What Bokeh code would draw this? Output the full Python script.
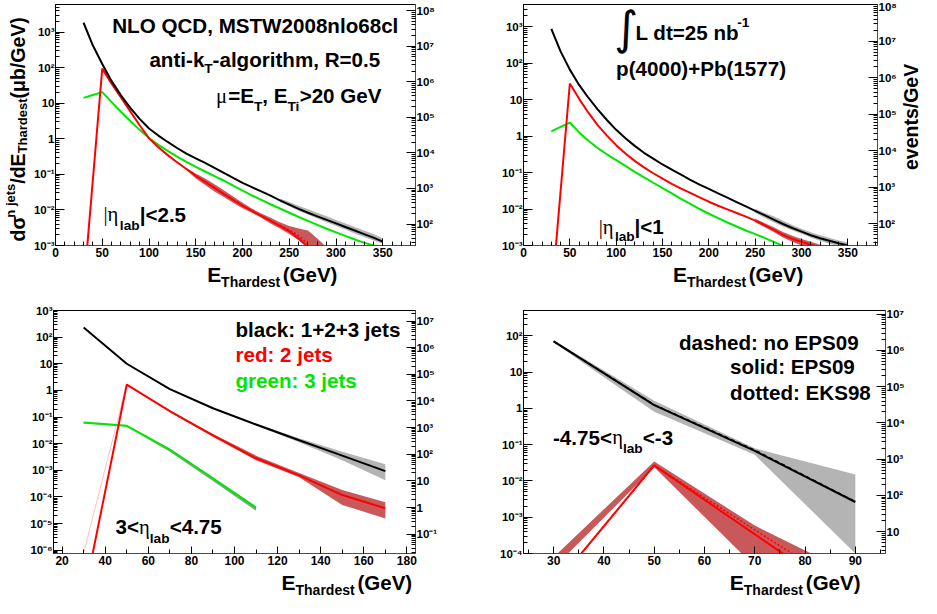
import math
from bokeh.plotting import figure
from bokeh.models import (Range1d, LogAxis, FixedTicker, SingleIntervalTicker,
                          CustomJSTickFormatter, Label, LogScale)
from bokeh.layouts import row, column
from bokeh.embed import file_html
from bokeh.resources import INLINE

LUMI = 25000.0  # 25 nb^-1 in 1/microbarn: events/GeV = LUMI * dsigma/dE

# ---------------- data (log10 of dsigma/dE in microbarn/GeV) ----------------
# Panel A : |eta_lab| < 2.5
A_E = list(range(30, 360, 10))
A_black = [3.26, 2.62, 2.10, 1.62, 1.22, 0.87, 0.56, 0.29, 0.09, -0.09, -0.26, -0.42, -0.55,
           -0.68, -0.82, -0.96, -1.10, -1.24, -1.36, -1.48, -1.60, -1.73, -1.85, -1.97, -2.08,
           -2.18, -2.28, -2.38, -2.48, -2.58, -2.68, -2.78, -2.89]
A_green = [1.15, 1.23, 1.31, 1.03, 0.76, 0.50, 0.25, 0.02, -0.17, -0.34, -0.50, -0.65, -0.79,
           -0.92, -1.05, -1.18, -1.32, -1.46, -1.59, -1.72, -1.84, -1.96, -2.08, -2.20, -2.31,
           -2.42, -2.53, -2.63, -2.73, -2.83, -2.92, -3.00, -3.08]
A_red_E = [30, 50, 60, 70, 80, 90, 100, 110, 120, 130, 140, 150, 160, 170, 180, 190, 200, 210,
           220, 230, 240, 250, 260, 270, 280, 290]
A_red = [-4.25, 1.97, 1.55, 1.16, 0.77, 0.38, 0.01, -0.24, -0.46, -0.66, -0.85, -1.04, -1.21,
         -1.38, -1.55, -1.72, -1.88, -2.03, -2.17, -2.31, -2.45, -2.60, -2.80, -3.05, -3.30, -3.55]
A_red_dot_E = [240, 250, 260, 270, 280]
A_red_dot = [-2.43, -2.56, -2.72, -2.95, -3.20]
A_redband_E = [140, 150, 160, 170, 180, 190, 200, 210, 220, 230, 240, 250, 260, 270, 280, 290]
A_redband_lo = [-0.88, -1.12, -1.30, -1.48, -1.64, -1.80, -1.95, -2.08, -2.22, -2.38, -2.52,
                -2.68, -2.85, -3.05, -3.25, -3.45]
A_redband_hi = [-0.82, -0.98, -1.12, -1.28, -1.45, -1.62, -1.80, -1.96, -2.10, -2.22, -2.35,
                -2.45, -2.52, -2.58, -2.80, -3.05]
A_grayband_E = [240, 250, 260, 270, 280, 290, 300, 310, 320, 330, 340, 350]
A_grayband_lo = [-1.78, -1.90, -2.02, -2.13, -2.24, -2.35, -2.45, -2.55, -2.66, -2.76, -2.86, -2.95]
A_grayband_hi = [-1.68, -1.78, -1.88, -1.98, -2.08, -2.18, -2.28, -2.38, -2.48, -2.58, -2.68, -2.80]

# Panel B : |eta_lab| < 1
B_E = list(range(30, 360, 10))
B_black = [2.94, 2.32, 1.82, 1.40, 1.05, 0.73, 0.44, 0.17, -0.06, -0.27, -0.46, -0.62, -0.78,
           -0.92, -1.06, -1.20, -1.33, -1.45, -1.57, -1.69, -1.81, -1.93, -2.05, -2.17, -2.29,
           -2.41, -2.52, -2.62, -2.72, -2.80, -2.87, -2.94, -3.00]
B_red_E = [30, 50, 60, 70, 80, 90, 100, 110, 120, 130, 140, 150, 160, 170, 180, 190, 200, 210,
           220, 230, 240, 250, 260, 270, 280, 290, 300, 310, 320]
B_red = [-4.48, 1.44, 1.02, 0.64, 0.30, 0.01, -0.25, -0.48, -0.68, -0.86, -1.02, -1.17, -1.31,
         -1.44, -1.56, -1.68, -1.80, -1.91, -2.01, -2.11, -2.21, -2.32, -2.44, -2.57, -2.71,
         -2.82, -2.90, -2.98, -3.06]
B_green_E = list(range(30, 290, 10))
B_green = [0.13, 0.25, 0.37, 0.10, -0.13, -0.33, -0.50, -0.66, -0.82, -0.98, -1.13, -1.28,
           -1.43, -1.57, -1.72, -1.86, -2.00, -2.13, -2.25, -2.37, -2.48, -2.59, -2.69, -2.79,
           -2.90, -3.01]
B_grayband_E = [250, 260, 270, 280, 290, 300, 310, 320, 330, 340, 350]
B_grayband_lo = [-2.10, -2.24, -2.36, -2.48, -2.58, -2.68, -2.78, -2.87, -2.95, -3.02, -3.08]
B_grayband_hi = [-2.00, -2.10, -2.20, -2.32, -2.44, -2.54, -2.64, -2.72, -2.79, -2.86, -2.92]
B_redband_E = [250, 260, 270, 280, 290, 300, 310, 320]
B_redband_lo = [-2.36, -2.49, -2.63, -2.78, -2.90, -3.00, -3.10, -3.20]
B_redband_hi = [-2.27, -2.38, -2.50, -2.63, -2.73, -2.82, -2.90, -2.98]

# Panel C : 3 < eta_lab < 4.75
C_E = [30, 50, 70, 90, 110, 130, 150, 170]
C_black = [2.36, 1.00, 0.05, -0.67, -1.28, -1.87, -2.45, -3.03]
C_red = [-7.80, 0.22, -0.78, -1.69, -2.55, -3.19, -3.93, -4.43]
C_red_faint = [-6.10, 0.22, -0.78, -1.70, -2.55, -3.18, -3.90, -4.40]
C_grayband_lo = [2.34, 0.98, 0.03, -0.70, -1.32, -1.95, -2.62, -3.37]
C_grayband_hi = [2.38, 1.02, 0.07, -0.64, -1.24, -1.80, -2.30, -2.77]
C_redband_E = [70, 90, 110, 130, 150, 170]
C_redband_lo = [-0.82, -1.74, -2.62, -3.26, -4.30, -4.81]
C_redband_hi = [-0.76, -1.64, -2.45, -3.10, -3.74, -4.20]
C_green_E = [30, 50, 70, 90, 110]
C_green = [-1.21, -1.33, -2.22, -3.30, -4.40]
C_greenband_lo = [-1.24, -1.36, -2.30, -3.40, -4.52]
C_greenband_hi = [-1.19, -1.31, -2.20, -3.28, -4.36]

# Panel D : -4.75 < eta_lab < -3
D_E = [30, 50, 70, 90]
D_black = [1.85, 0.09, -1.17, -2.58]
D_black_dash = [1.85, 0.10, -1.15, -2.57]
D_red = [-4.92, -1.57, -3.47, -5.37]
D_red_dot = [-4.92, -1.57, -3.35, -5.10]
D_grayband_lo = [1.82, -0.09, -1.28, -4.00]
D_grayband_hi = [1.88, 0.21, -1.10, -1.82]
D_redband_lo = [-4.40, -1.62, -4.36, -7.00]
D_redband_hi = [-4.10, -1.46, -3.23, -4.60]

# axis ranges (x in GeV, y as log10 limits)
A_XR, A_YR = (0, 385), (-3.0, 3.773)
B_XR, B_YR = (0, 382), (-3.0, 3.605)
C_XR, C_YR = (16, 184), (-6.125, 3.0)
D_XR, D_YR = (24, 96), (-4.0, 2.70)

# ---------------- styling ----------------
FONT = "Liberation Sans"
SERIF = "Liberation Serif"
RED = "#ff0000"
GREEN = "#00e600"
REDBAND = "#c8585a"
GRAYBAND = "#b4b4b4"
GREENBAND = "#7fa37f"
K = 0.98     # text scale
MID = 0.347  # distance (in em) from text-box middle down to the baseline

SUP = {"-": "\u207b", "0": "\u2070", "1": "\u00b9", "2": "\u00b2", "3": "\u00b3", "4": "\u2074",
       "5": "\u2075", "6": "\u2076", "7": "\u2077", "8": "\u2078", "9": "\u2079"}
LOGFMT = CustomJSTickFormatter(args=dict(sup=SUP), code="""
const e = Math.round(Math.log10(tick));
if (e == 0) return "1";
if (e == 1) return "10";
return "10" + String(e).split("").map(c => sup[c]).join("");
""")

# Arial/Liberation Sans Bold advance widths (per 1000 em)
WB = {' ': 278, '(': 333, ')': 333, '+': 584, ',': 278, '-': 333, '.': 278, '/': 278, ':': 333,
      '<': 584, '=': 584, '>': 584, '|': 280, '\u03bc': 600, '\u03b7': 520, '\u03c3': 611}
for c in "0123456789":
    WB[c] = 556
WB.update(dict(zip("ABCDEFGHIJKLMNOPQRSTUVWXYZ",
                   [722, 722, 722, 722, 667, 611, 778, 722, 278, 556, 722, 611, 833, 722, 778, 667,
                    778, 722, 667, 611, 722, 667, 944, 667, 667, 611])))
WB.update(dict(zip("abcdefghijklmnopqrstuvwxyz",
                   [556, 611, 556, 611, 556, 333, 611, 611, 278, 278, 556, 278, 889, 611, 611, 611,
                    611, 389, 556, 333, 611, 556, 778, 556, 556, 500])))


def tw(s, size):
    return sum(WB.get(c, 556) for c in s) * size / 1000.0


def decades(lo, hi):
    return [10.0 ** k for k in range(lo, hi + 1)]


def minors(lo, hi):
    return [m * 10.0 ** k for k in range(lo, hi + 1) for m in range(2, 10)]


def style_axis(ax, line_color="black", size="12px", standoff=2):
    ax.major_label_text_font = FONT
    ax.major_label_text_font_style = "bold"
    ax.major_label_text_font_size = size
    ax.major_label_text_color = "black"
    ax.major_label_standoff = standoff
    ax.major_tick_in = 9
    ax.major_tick_out = 0
    ax.minor_tick_in = 4
    ax.minor_tick_out = 0
    ax.major_tick_line_color = "black"
    ax.minor_tick_line_color = "black"
    ax.axis_line_color = line_color


def make_fig(w, h, lb, rb, tb, bb, xr, ylog, xint, xminor):
    p = figure(width=w, height=h, x_range=Range1d(*xr),
               y_range=Range1d(10 ** ylog[0], 10 ** ylog[1]), y_axis_type="log",
               output_backend="svg", toolbar_location=None, tools="",
               min_border_left=lb, min_border_right=rb, min_border_top=tb, min_border_bottom=bb)
    p.xgrid.visible = False
    p.ygrid.visible = False
    p.outline_line_color = "black"
    p.background_fill_color = "white"
    p.border_fill_color = "white"
    p.extra_y_ranges = {"ev": Range1d(10 ** ylog[0] * LUMI, 10 ** ylog[1] * LUMI)}
    p.extra_y_scales = {"ev": LogScale()}
    lo, hi = math.floor(ylog[0]) - 1, math.ceil(ylog[1]) + 1
    yl = p.yaxis[0]
    yl.ticker = FixedTicker(ticks=decades(lo, hi), minor_ticks=minors(lo, hi))
    yl.formatter = LOGFMT
    style_axis(yl, size="11.5px", standoff=1)
    elo, ehi = lo + 4, hi + 6
    yr = LogAxis(y_range_name="ev",
                 ticker=FixedTicker(ticks=decades(elo, ehi), minor_ticks=minors(elo, ehi)),
                 formatter=LOGFMT)
    style_axis(yr, RED, size="11.5px", standoff=1)
    p.add_layout(yr, "right")
    xa = p.xaxis[0]
    xa.ticker = SingleIntervalTicker(interval=xint, num_minor_ticks=xminor)
    style_axis(xa, RED)
    xa.major_tick_in = 7
    return p


def strip(w, h, lb=0, rb=0, xr=None):
    """blank text strip; its frame is aligned with the panel above (same side borders),
    and its x range is given in picture pixels so texts can be placed directly."""
    xr = xr if xr is not None else (0, w)
    p = figure(width=w, height=h, x_range=Range1d(*xr), y_range=Range1d(0, h),
               x_axis_type=None, y_axis_type=None, output_backend="svg",
               toolbar_location=None, tools="", min_border=0,
               min_border_left=lb, min_border_right=rb)
    p.outline_line_color = None
    p.xgrid.visible = False
    p.ygrid.visible = False
    return p


def lg(v):
    return [10.0 ** x for x in v]


def label(p, s, x, y, size, style="bold", color="black", angle=0.0, font=FONT):
    # (x, y) is the middle of the text box
    p.add_layout(Label(x=x, y=y, text=s, text_font=font, text_font_size=f"{size:.1f}px",
                       text_font_style=style, text_color=color, angle=angle,
                       text_align="left", text_baseline="middle"))


# reference frame boxes (pixels of the original picture) used to place in-plot texts
REF = {
    "A": (54, 422, 4, 252, A_XR, A_YR),
    "B": (532, 899, 4, 252, B_XR, B_YR),
    "C": (54, 422, 328.3, 576.7, C_XR, C_YR),
    "D": (532, 900, 328.3, 576.7, D_XR, D_YR),
}


def ref_data(key, X, Y):
    fl, fr, ft, fb, xr, yr = REF[key]
    xd = xr[0] + (X - fl) / (fr - fl) * (xr[1] - xr[0])
    yd = 10 ** (yr[1] - (Y - ft) / (fb - ft) * (yr[1] - yr[0]))
    return xd, yd


def rich(p, key, X, Y, pieces, color="black"):
    """pieces: (text, nominal size, baseline shift in px, style, font); Y is the baseline"""
    for s, size, dy, style, font in pieces:
        xd, yd = ref_data(key, X, Y + dy - MID * size)
        label(p, s, xd, yd, size * K, style=style, color=color, font=font)
        X += tw(s, size)


def main(s):
    return (s, 21, 0, "bold", FONT)


def sub(s, dy=8):
    return (s, 14, dy, "bold", FONT)


def greek(s):
    return (s, 21, 0, "normal", SERIF)


# ---------------- layout geometry ----------------
TOPP_H, XT_H = 262, 28
BOTP_H, XB_H = 280, 28
ROW1_H = TOPP_H + XT_H
YA_W, YB_W = 30, 22
A_W, B_W = 432, 437
C_W, D_W = 462, 459
# side borders of each panel (left, right) and page x of its canvas
A_LB, A_RB = 23, 47
B_LB, B_RB = 61, 20
C_LB, C_RB = 53, 47
D_LB, D_RB = 61, 36
A_X0 = YA_W
B_X0 = YA_W + A_W
C_X0 = 0
D_X0 = C_W

# ---------------- panel A ----------------
pA = make_fig(A_W, TOPP_H, A_LB, A_RB, 4, 17, A_XR, A_YR, 50, 5)
pA.varea(A_grayband_E, lg(A_grayband_lo), lg(A_grayband_hi), color=GRAYBAND)
pA.varea(A_redband_E, lg(A_redband_lo), lg(A_redband_hi), color=REDBAND)
pA.line(A_E, lg(A_green), color=GREEN, line_width=2)
pA.line(A_red_E, lg(A_red), color=RED, line_width=2)
pA.line(A_red_dot_E, lg(A_red_dot), color=RED, line_width=1.5, line_dash="2 2")
pA.line(A_E, lg(A_black), color="black", line_width=2)
rich(pA, "A", 112, 33.3, [main("NLO QCD, MSTW2008nlo68cl")])
rich(pA, "A", 150, 67.7, [main("anti-k"), sub("T", 7), main("-algorithm, R=0.5")])
rich(pA, "A", 218, 105, [greek("\u03bc"), main("=E"), sub("T", 9), main(", E"), sub("Ti", 9),
                         main(">20 GeV")])
rich(pA, "A", 103, 227, [greek("|\u03b7"), sub("lab", 9), main("|<2.5")])

# ---------------- panel B ----------------
pB = make_fig(B_W, TOPP_H, B_LB, B_RB, 4, 17, B_XR, B_YR, 50, 5)
pB.varea(B_grayband_E, lg(B_grayband_lo), lg(B_grayband_hi), color=GRAYBAND)
pB.varea(B_redband_E, lg(B_redband_lo), lg(B_redband_hi), color=REDBAND)
pB.line(B_green_E, lg(B_green), color=GREEN, line_width=2)
pB.line(B_red_E, lg(B_red), color=RED, line_width=2)
pB.line(B_E, lg(B_black), color="black", line_width=2)
xd, yd = ref_data("B", 626, 28)
label(pB, "\u222b", xd, yd, 46, style="normal", font="DejaVu Sans")
rich(pB, "B", 648, 40, [main("L dt=25 nb"), sub("-1", -13)])
rich(pB, "B", 628, 77, [main("p(4000)+Pb(1577)")])
rich(pB, "B", 610, 240, [greek("|\u03b7"), sub("lab", 8), main("|<1")])

# ---------------- panel C ----------------
pC = make_fig(C_W, BOTP_H, C_LB, C_RB, 20, 17, C_XR, C_YR, 20, 2)
pC.varea(C_E, lg(C_grayband_lo), lg(C_grayband_hi), color=GRAYBAND)
pC.varea(C_redband_E, lg(C_redband_lo), lg(C_redband_hi), color=REDBAND)
pC.varea(C_green_E, lg(C_greenband_lo), lg(C_greenband_hi), color=GREENBAND)
pC.line(C_E, lg(C_red_faint), color=RED, line_width=1, alpha=0.25)
pC.line(C_green_E, lg(C_green), color=GREEN, line_width=2)
pC.line(C_E, lg(C_red), color=RED, line_width=2)
pC.line(C_E, lg(C_black), color="black", line_width=2)
rich(pC, "C", 239, 355, [main("black: 1+2+3 jets")])
rich(pC, "C", 239, 381, [main("red: 2 jets")], color=RED)
rich(pC, "C", 239, 407, [main("green: 3 jets")], color=GREEN)
rich(pC, "C", 117, 556.7, [main("3<"), greek("\u03b7"), sub("lab", 10), main("<4.75")])

# ---------------- panel D ----------------
pD = make_fig(D_W, BOTP_H, D_LB, D_RB, 20, 17, D_XR, D_YR, 10, 2)
pD.varea(D_E, lg(D_grayband_lo), lg(D_grayband_hi), color=GRAYBAND)
pD.varea(D_E, lg(D_redband_lo), lg(D_redband_hi), color=REDBAND)
pD.line(D_E, lg(D_red), color=RED, line_width=2)
pD.line(D_E, lg(D_red_dot), color=RED, line_width=1.5, line_dash="2 2")
pD.line(D_E, lg(D_black), color="black", line_width=2)
pD.line(D_E, lg(D_black_dash), color="black", line_width=1.5, line_dash="4 3")
rich(pD, "D", 690, 368, [main("dashed: no EPS09")])
rich(pD, "D", 742, 393, [main("solid: EPS09")])
rich(pD, "D", 742, 419, [main("dotted: EKS98")])
rich(pD, "D", 562, 465, [main("-4.75<"), greek("\u03b7"), sub("lab", 9), main("<-3")])


# ---------------- title strips (texts outside the plot frames) ----------------
def xtitle_strip(w, h, x0, lb, rb, ex, base):
    # frame spans picture x from x0+lb to x0+w-rb (aligned with the panel above)
    s = strip(w, h, lb, rb, (x0 + lb, x0 + w - rb))
    label(s, "E", ex, base + MID * 21, 21)
    label(s, "Thardest", ex + 14, base - 5 + MID * 14, 14)
    label(s, "(GeV)", ex + 76, base + MID * 20.5, 20.5)
    return s


XA = xtitle_strip(A_W, XT_H, A_X0, A_LB, A_RB, 205.5, 9)
XB = xtitle_strip(B_W, XT_H, B_X0, B_LB, B_RB, 673.4, 9)
XC = xtitle_strip(C_W, XB_H, C_X0, C_LB, C_RB, 281, 9)
XD = xtitle_strip(D_W, XB_H, D_X0, D_LB, D_RB, 729.3, 9)

# y title of panel A (rotated, reads bottom to top); xb is the baseline x
YA = strip(YA_W, ROW1_H)
A90 = math.pi / 2
xb = 24
yy = ROW1_H - 241
for s, size, dx in [("d\u03c3", 19.5, 0), ("n jets", 13, -9), ("/dE", 19.5, 0),
                    ("Thardest", 13, 3), (" (\u03bcb/GeV)", 19.5, 0)]:
    label(YA, s, xb + dx - MID * size, yy, size, angle=A90)
    yy += tw(s, size)

# right title of panel B
YB = strip(YB_W, ROW1_H)
label(YB, "events/GeV", 11, ROW1_H - 169.5, 19.5, angle=A90)

layout = column(
    row(YA, column(pA, XA), column(pB, XB), YB),
    row(column(pC, XC), column(pD, XD)),
)
open("out.html", "w").write(file_html(layout, INLINE))
